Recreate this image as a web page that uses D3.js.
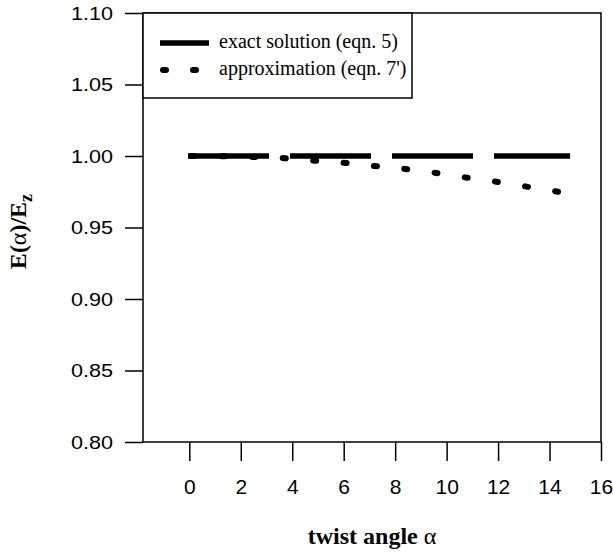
<!DOCTYPE html>
<html>
<head>
<meta charset="utf-8">
<script src="https://cdn.jsdelivr.net/npm/d3@7"></script>
<style>
  body { margin: 0; background: #fff; }
  svg { display: block; }
</style>
</head>
<body>
<svg id="chart" width="613" height="556"></svg>
<script>
// Tick values for both axes
const xTicks = [0, 2, 4, 6, 8, 10, 12, 14, 16];
const yTicks = [0.80, 0.85, 0.90, 0.95, 1.00, 1.05, 1.10];

// Exact solution (eqn. 5): constant ratio
const exactAlpha = [-0.05, 14.8];
const exactE = [1.000, 1.000];

// Approximation (eqn. 7')
const approxAlpha = [0, 1.3, 2.6, 3.7, 4.9, 6.1, 7.2, 8.4, 9.6, 10.8, 12.0, 13.2, 14.4];
const approxE = [1.000, 0.9998, 0.9993, 0.9985, 0.9967, 0.9951, 0.9930, 0.9909, 0.9881, 0.9848, 0.9818, 0.9783, 0.9748];

const seriesNames = ["exact solution (eqn. 5)", "approximation (eqn. 7')"];

const svg = d3.select("#chart");
const plotL = 143, plotR = 601, plotT = 13, plotB = 442;

const x = d3.scaleLinear().domain([-1.8, 16]).range([plotL, plotR]);
const y = d3.scaleLinear().domain([0.80, 1.10]).range([plotB, plotT]);

// Y axis with long outward ticks
const yAxis = svg.append("g")
  .attr("transform", `translate(${plotL},0)`)
  .call(d3.axisLeft(y).tickValues(yTicks).tickSize(18).tickFormat(d3.format(".2f")));
yAxis.select(".domain").remove();
yAxis.selectAll(".tick line").attr("stroke", "#000").attr("stroke-width", 1.5);
yAxis.selectAll(".tick text")
  .attr("font-family", "'Liberation Sans', Arial, sans-serif")
  .attr("font-size", 18)
  .attr("fill", "#000")
  .attr("text-anchor", "end")
  .attr("x", -30 / 1.2)
  .attr("dy", "0.34em")
  .attr("transform", "scale(1.2,1)");

// X axis with long outward ticks
const xAxis = svg.append("g")
  .attr("transform", `translate(0,${plotB})`)
  .call(d3.axisBottom(x).tickValues(xTicks).tickSize(19).tickFormat(d3.format("d")));
xAxis.select(".domain").remove();
xAxis.selectAll(".tick line").attr("stroke", "#000").attr("stroke-width", 1.5);
xAxis.selectAll(".tick text")
  .attr("font-family", "'Liberation Sans', Arial, sans-serif")
  .attr("font-size", 21)
  .attr("fill", "#000")
  .attr("y", 52)
  .attr("dy", 0);

// Plot frame
svg.append("rect")
  .attr("x", plotL).attr("y", plotT)
  .attr("width", plotR - plotL).attr("height", plotB - plotT)
  .attr("fill", "none").attr("stroke", "#000").attr("stroke-width", 1.5);

// Legend box
svg.append("rect")
  .attr("x", plotL).attr("y", plotT)
  .attr("width", 269).attr("height", 85)
  .attr("fill", "#fff").attr("stroke", "#000").attr("stroke-width", 1.5);

// Data lines
const exactLine = d3.line().x(d => x(d[0])).y(d => y(d[1]));
svg.append("path")
  .datum(d3.zip(exactAlpha, exactE))
  .attr("d", exactLine)
  .attr("fill", "none").attr("stroke", "#000")
  .attr("stroke-width", 5.5)
  .attr("stroke-dasharray", "81,21");

const approxLine = d3.line().x(d => x(d[0])).y(d => y(d[1])).curve(d3.curveMonotoneX);
svg.append("path")
  .datum(d3.zip(approxAlpha, approxE))
  .attr("d", approxLine)
  .attr("fill", "none").attr("stroke", "#000")
  .attr("stroke-width", 6)
  .attr("stroke-linecap", "round")
  .attr("stroke-dasharray", "3,27.5")
  .attr("stroke-dashoffset", -2);

// Legend entries
const lg = svg.append("g");
lg.append("line")
  .attr("x1", 160).attr("x2", 209).attr("y1", 43).attr("y2", 43)
  .attr("stroke", "#000").attr("stroke-width", 5.5);
lg.append("line")
  .attr("x1", 163).attr("x2", 197).attr("y1", 70).attr("y2", 70)
  .attr("stroke", "#000").attr("stroke-width", 6)
  .attr("stroke-linecap", "round")
  .attr("stroke-dasharray", "3,27");
lg.selectAll("text.legend")
  .data(seriesNames)
  .join("text")
  .attr("class", "legend")
  .attr("x", 219)
  .attr("y", (d, i) => 48 + i * 27)
  .attr("font-family", "'Liberation Serif', 'Times New Roman', serif")
  .attr("font-size", 20)
  .attr("fill", "#000")
  .text(d => d);

// Axis titles
const xt = svg.append("text")
  .attr("x", (plotL + plotR) / 2)
  .attr("y", 544)
  .attr("text-anchor", "middle")
  .attr("font-family", "'Liberation Serif', 'Times New Roman', serif")
  .attr("font-weight", "bold")
  .attr("font-size", 24)
  .attr("fill", "#000");
xt.append("tspan").text("twist angle ");
xt.append("tspan").attr("font-weight", "normal").text("α");

const yt = svg.append("text")
  .attr("transform", `translate(26,${(plotT + plotB) / 2 + 4}) rotate(-90)`)
  .attr("text-anchor", "middle")
  .attr("font-family", "'Liberation Serif', 'Times New Roman', serif")
  .attr("font-weight", "bold")
  .attr("font-size", 24)
  .attr("fill", "#000");
yt.append("tspan").text("E(");
yt.append("tspan").attr("font-weight", "normal").text("α");
yt.append("tspan").text(")/E");
yt.append("tspan").attr("font-size", 18).attr("dy", 6).text("z");
</script>
</body>
</html>
